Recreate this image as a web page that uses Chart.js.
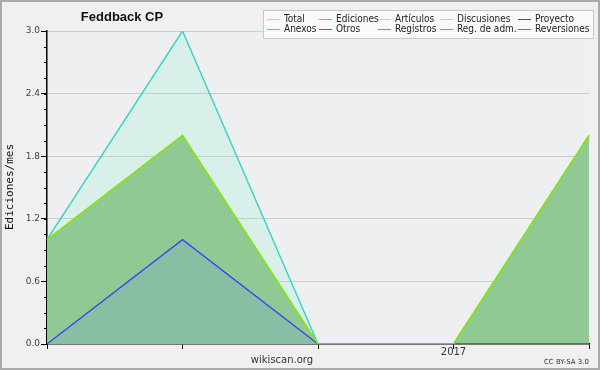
<!DOCTYPE html>
<html>
<head>
<meta charset="utf-8">
<script src="https://cdn.jsdelivr.net/npm/chart.js@4/dist/chart.umd.min.js"></script>
<style>
  body { margin: 0; background: #f0f0f0; }
  canvas { display: block; }
</style>
</head>
<body>
<canvas id="chart" width="600" height="370"></canvas>
<script>
// months on the x axis, only 2017 gets a label
const months = ['2016-10', '2016-11', '2016-12', '2017-01', '2017-02'];
const tickLabels = ['', '', '', '2017', ''];

const total = [1, 3, 0, 0, 2];
const ediciones = [1, 2, 0, 0, 2];
const articulos = [1, 2, 0, 0, 2];
const registros = [0, 1, 0, 0, 0];

const legendNames = ['Total', 'Ediciones', 'Artículos', 'Discusiones', 'Proyecto',
                     'Anexos', 'Otros', 'Registros', 'Reg. de adm.', 'Reversiones'];
const legendColors = ['#8ee6e0', '#6cc46c', '#c4f030', '#ffcc33', '#555555',
                      '#ff8a3c', '#8a3ce8', '#7088ff', '#e050ff', '#ff3a3a'];

// frame, title, legend box, minor ticks and the small texts
const decorPlugin = {
    id: 'decor',
    beforeDraw(chart) {
        const ctx = chart.ctx;
        const a = chart.chartArea;
        ctx.save();
        ctx.fillStyle = '#f0f0f0';
        ctx.fillRect(0, 0, chart.width, chart.height);
        ctx.fillStyle = '#eeeff1';
        ctx.fillRect(a.left, a.top, a.right - a.left, a.bottom - a.top);
        ctx.restore();
    },
    afterDraw(chart) {
        const ctx = chart.ctx;
        const y = chart.scales.y;
        const a = chart.chartArea;
        ctx.save();

        // minor ticks on y
        ctx.strokeStyle = '#000';
        ctx.lineWidth = 1;
        for (let v = 0; v <= 3.0001; v += 0.15) {
            const py = Math.round(y.getPixelForValue(v)) + 0.5;
            ctx.beginPath();
            ctx.moveTo(a.left - 3, py);
            ctx.lineTo(a.left, py);
            ctx.stroke();
        }

        // title
        ctx.fillStyle = '#111';
        ctx.font = 'bold 13px "Liberation Sans"';
        ctx.textAlign = 'center';
        ctx.textBaseline = 'middle';
        ctx.fillText('Feddback CP', 122, 17);

        // y axis title
        ctx.save();
        ctx.translate(10, 187);
        ctx.rotate(-Math.PI / 2);
        ctx.font = '11px "DejaVu Sans Mono"';
        ctx.fillStyle = '#111';
        ctx.fillText('Ediciones/mes', 0, 0);
        ctx.restore();

        // footer texts
        ctx.fillStyle = '#333';
        ctx.font = '10px "DejaVu Sans"';
        ctx.fillText('wikiscan.org', 282, 360);
        ctx.font = '7px "DejaVu Sans"';
        ctx.textAlign = 'right';
        ctx.fillText('CC BY-SA 3.0', 589, 362);

        // legend box
        ctx.fillStyle = 'rgba(250,250,250,0.9)';
        ctx.fillRect(263, 10, 330, 28);
        ctx.strokeStyle = '#c8c8c8';
        ctx.lineWidth = 1;
        ctx.strokeRect(263.5, 10.5, 330, 28);
        const swatchX = [267, 319, 378, 440, 518];
        ctx.font = '10px "DejaVu Sans Condensed", "Liberation Sans"';
        ctx.textAlign = 'left';
        legendNames.forEach((name, i) => {
            const col = i % 5;
            const row = Math.floor(i / 5);
            const ly = row === 0 ? 19.5 : 29.5;
            const sx = swatchX[col];
            ctx.strokeStyle = legendColors[i];
            ctx.beginPath();
            ctx.moveTo(sx, ly);
            ctx.lineTo(sx + 13, ly);
            ctx.stroke();
            ctx.fillStyle = '#222';
            ctx.fillText(name, sx + 17, ly);
        });

        // outer frame
        ctx.strokeStyle = '#aaaaaa';
        ctx.lineWidth = 2;
        ctx.strokeRect(1, 1, chart.width - 2, chart.height - 2);
        ctx.restore();
    }
};

new Chart(document.getElementById('chart'), {
    type: 'line',
    data: {
        labels: months,
        datasets: [
            {
                label: 'Artículos',
                data: articulos,
                borderColor: '#88e800',
                borderWidth: 1.5,
                fill: false,
                order: 1
            },
            {
                label: 'Registros',
                data: registros,
                borderColor: '#3346f0',
                backgroundColor: 'rgba(85,134,255,0.15)',
                borderWidth: 1.3,
                fill: 'origin',
                order: 2
            },
            {
                label: 'Ediciones',
                data: ediciones,
                borderColor: '#6cc46c',
                backgroundColor: '#91c995',
                borderWidth: 1,
                fill: 'origin',
                order: 3
            },
            {
                label: 'Total',
                data: total,
                borderColor: '#33d2c8',
                backgroundColor: 'rgba(128,244,206,0.2)',
                borderWidth: 1.4,
                fill: 'origin',
                order: 4
            }
        ]
    },
    options: {
        responsive: false,
        animation: false,
        layout: { padding: { top: 31, right: 11, left: 0, bottom: 0 } },
        elements: {
            point: { radius: 0 },
            line: { tension: 0 }
        },
        plugins: {
            legend: { display: false },
            tooltip: { enabled: false }
        },
        scales: {
            x: {
                offset: false,
                afterFit: function(scale) { scale.height = 26; },
                border: { display: true, color: '#000', width: 1.5 },
                grid: {
                    drawOnChartArea: false,
                    drawTicks: true,
                    tickLength: 5,
                    tickColor: '#000'
                },
                ticks: {
                    padding: -3,
                    maxRotation: 0,
                    autoSkip: false,
                    color: '#333',
                    font: { family: 'DejaVu Sans', size: 10 },
                    callback: function(value, index) { return tickLabels[index]; }
                }
            },
            y: {
                min: 0,
                max: 3,
                afterFit: function(scale) { scale.width = 47; },
                border: { display: true, color: '#000', width: 1.5 },
                grid: {
                    color: function(c) { return c.tick && c.tick.value === 0 ? 'rgba(0,0,0,0)' : '#cccccc'; },
                    drawTicks: true,
                    tickLength: 6,
                    tickColor: '#000'
                },
                ticks: {
                    stepSize: 0.6,
                    padding: 1,
                    color: '#444',
                    font: { family: 'DejaVu Sans', size: 9 },
                    callback: function(value) { return value.toFixed(1); }
                }
            }
        }
    },
    plugins: [decorPlugin]
});
</script>
</body>
</html>
